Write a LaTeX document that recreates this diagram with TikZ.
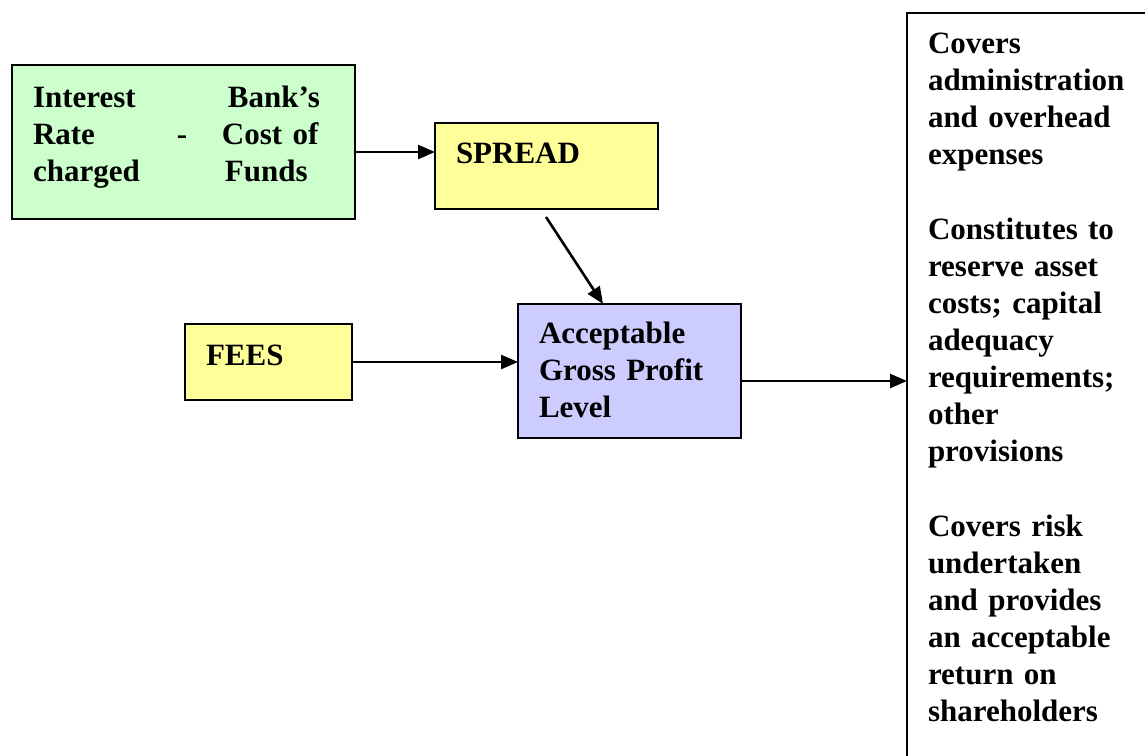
\documentclass[tikz,border=0pt]{standalone}
\usepackage{fontspec}
\setmainfont{Liberation Serif}
\usetikzlibrary{arrows.meta}
\definecolor{boxgreen}{HTML}{CCFFCC}
\definecolor{boxyellow}{HTML}{FFFF99}
\definecolor{boxblue}{HTML}{CCCCFF}
\begin{document}
\begin{tikzpicture}[x=1pt,y=-1pt,
  box/.style={draw=black,line width=2.4pt,inner sep=0pt,outer sep=0pt,anchor=north west},
  lbl/.style={font=\fontsize{31}{37}\selectfont\bfseries,inner sep=0pt,outer sep=0pt,anchor=base west,align=left,text width=#1},
  conn/.style={line width=2.6pt,-{Triangle[length=17pt,width=14pt]}}]
\useasboundingbox (0,0) rectangle (1145,755);
\clip (0,0) rectangle (1145,755);
\fill[white] (0,0) rectangle (1145,755);
% boxes
\node[box,fill=boxgreen,minimum width=343pt,minimum height=154pt] (green) at (12,65) {};
\node[box,fill=boxyellow,minimum width=223pt,minimum height=86pt] (spread) at (435,123) {};
\node[box,fill=boxyellow,minimum width=167pt,minimum height=76pt] (fees) at (185,324) {};
\node[box,fill=boxblue,minimum width=223pt,minimum height=134pt] (blue) at (518,304) {};
\node[box,minimum width=400pt,minimum height=820pt] (rbox) at (907,13) {};
% texts
\node[lbl=300pt] (gtext) at (33,107) {\makebox[195pt][l]{Interest}Bank’s\\
  \makebox[144pt][l]{Rate}\makebox[45pt][l]{-}Cost of\\
  \makebox[192pt][l]{charged}Funds};
\node[lbl=200pt] (stext) at (456,163) {SPREAD};
\node[lbl=150pt] (ftext) at (206,365) {FEES};
\node[lbl=200pt] (btext) at (539,343) {Acceptable\\Gross Profit\\Level};
\node[lbl=215pt] (rtext) at (928,53) {Covers\\administration\\and overhead\\expenses\\[38pt]%
  Constitutes to\\reserve asset\\costs; capital\\adequacy\\requirements;\\other\\provisions\\[38pt]%
  Covers risk\\undertaken\\and provides\\an acceptable\\return on\\shareholders};
% connectors
\draw[conn] ([yshift=-10pt]green.east) -- ([yshift=-10pt]green.east -| spread.west);
\draw[conn] ([shift={(111pt,-8pt)}]spread.south west) -- ([xshift=85pt]blue.north west);
\draw[conn] (fees.east) -- (fees.east -| blue.west);
\draw[conn] ([yshift=-10pt]blue.east) -- ([yshift=-10pt]blue.east -| rbox.west);
\end{tikzpicture}
\end{document}
